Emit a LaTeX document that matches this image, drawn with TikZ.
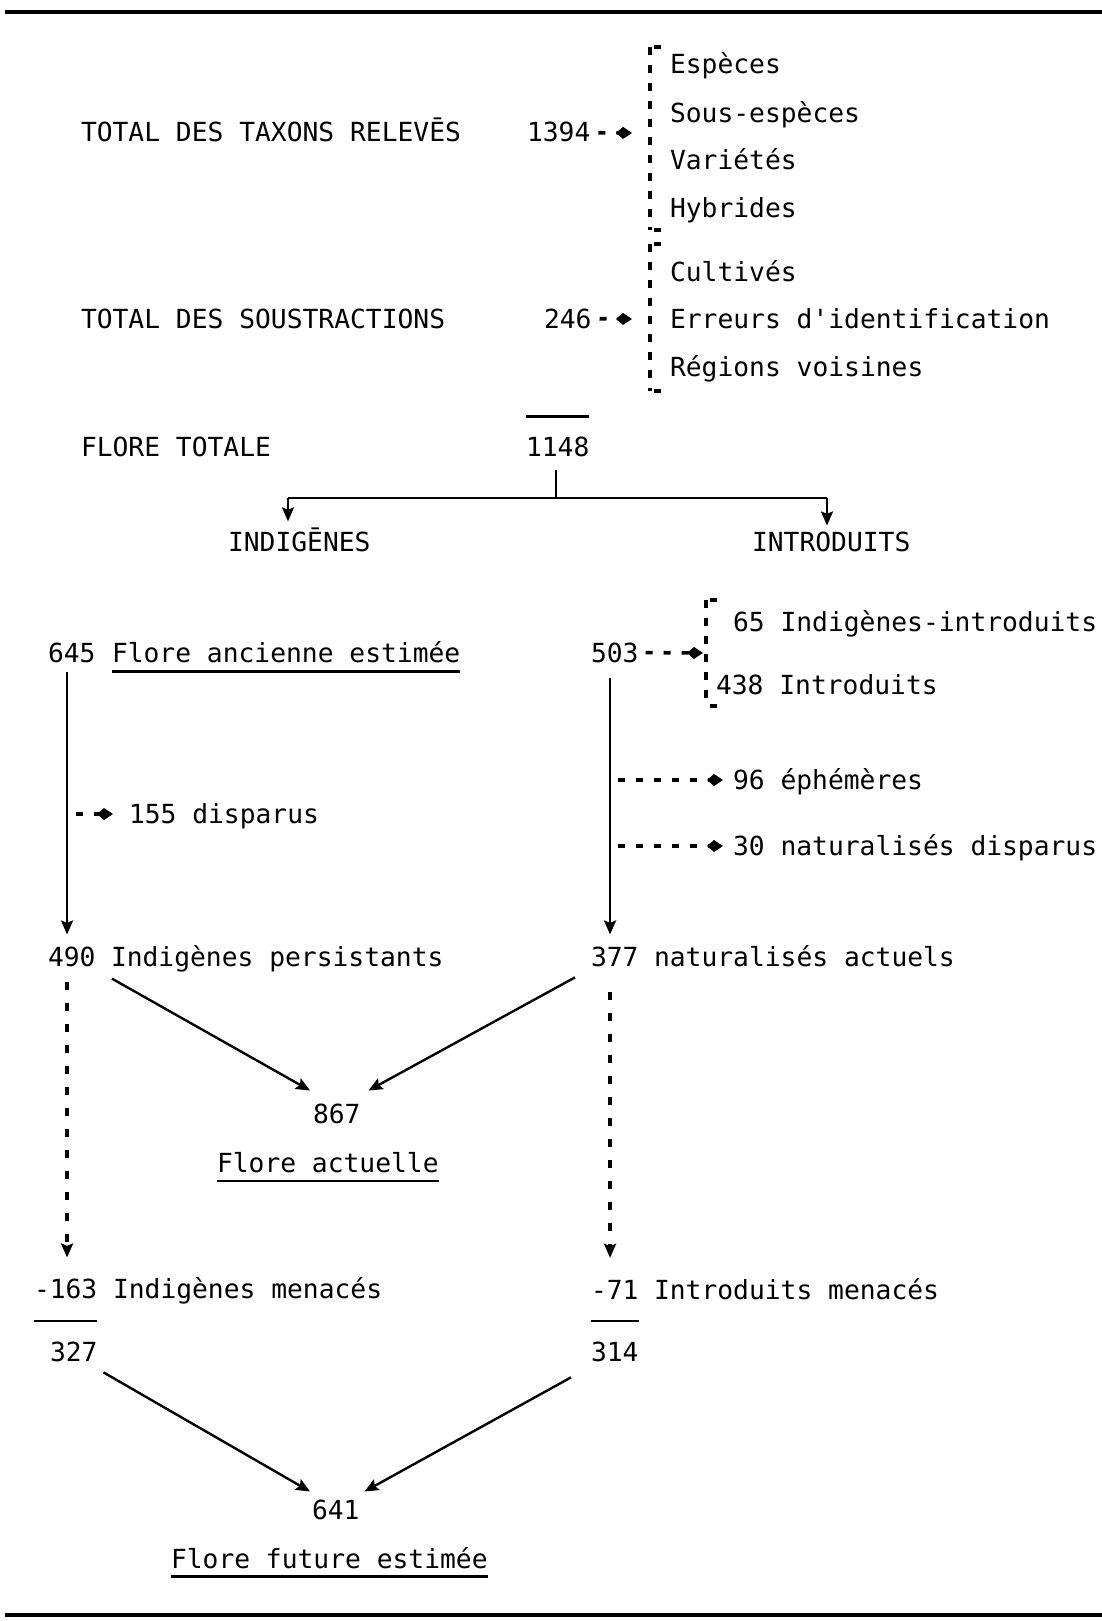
\documentclass[tikz,border=0pt]{standalone}
\usepackage{fontspec}
\setmonofont{DejaVu Sans Mono}
\usetikzlibrary{arrows.meta}
\begin{document}
\begin{tikzpicture}[x=0.5pt,y=-0.5pt,
 txt/.style={anchor=base west, inner sep=0pt, outer sep=0pt, font=\ttfamily\fontsize{13.15pt}{16pt}\selectfont},
 solidln/.style={line width=1.2pt},
 arr/.style={line width=1.2pt, -{Stealth[length=7pt,width=6pt,inset=1.2pt]}},
 dasharr/.style={line width=1.8pt, dash pattern=on 3.5pt off 5.5pt, -{Kite[length=8pt,width=6pt,inset=3.5pt]}},
 dotarr/.style={line width=2pt, dash pattern=on 4pt off 6.5pt, -{Stealth[length=7pt,width=6pt,inset=1.2pt]}},
 brk/.style={line width=1.7pt, dash pattern=on 4pt off 5pt},
 tickln/.style={line width=1.7pt},
 rulebar/.style={line width=1.6pt},
 uline/.style={line width=1.3pt}]
\useasboundingbox (0,0) rectangle (1102,1621);

% rules
\coordinate (rtl) at (5,12); \coordinate (rtr) at (1102,12);
\coordinate (rbl) at (5,1615); \coordinate (rbr) at (1102,1615);
\draw[rulebar] (rtl) -- (rtr);
\draw[rulebar] (rbl) -- (rbr);

% top block
\node[txt] (t1) at (81,142) {TOTAL DES TAXONS RELEVĒS};
\node[txt] (n1394) at (527,142) {1394};
\node[txt] (e1) at (670,74) {Espèces};
\node[txt] (e2) at (670,123) {Sous-espèces};
\node[txt] (e3) at (670,170) {Variétés};
\node[txt] (e4) at (670,218) {Hybrides};
\node[txt] (e5) at (670,281) {Cultivés};
\node[txt] (e6) at (670,328) {Erreurs d'identification};
\node[txt] (e7) at (670,376) {Régions voisines};
\node[txt] (t2) at (81,328) {TOTAL DES SOUSTRACTIONS};
\node[txt] (n246) at (544,328) {246};

% brackets
\coordinate (b1t) at (650,47); \coordinate (b1b) at (650,230);
\coordinate (b2t) at (650,244); \coordinate (b2b) at (650,391);
\draw[brk] (b1t) -- (b1b);
\draw[brk] (b2t) -- (b2b);
\draw[tickln] ([xshift=2pt]b1t) -- ([xshift=5.5pt]b1t);
\draw[tickln] ([xshift=2pt]b1b) -- ([xshift=5.5pt]b1b);
\draw[tickln] ([xshift=2pt]b2t) -- ([xshift=5.5pt]b2t);
\draw[tickln] ([xshift=2pt]b2b) -- ([xshift=5.5pt]b2b);

\coordinate (a1394) at (632,133);
\coordinate (a246) at (632,319);
\draw[dasharr, shorten <=4pt] (n1394) -- (a1394);
\draw[dasharr, shorten <=4pt] (n246) -- (a246);

% flore totale
\node[txt] (t3) at (81,456) {FLORE TOTALE};
\node[txt] (n1148) at (526,456) {1148};
\draw[uline] ([yshift=10pt]n1148.north west) -- ([yshift=10pt]n1148.north east);
\coordinate (split) at (556,498);
\coordinate (fL) at (288,498);
\coordinate (fR) at (827,498);
\draw[solidln, shorten <=7pt] (n1148.south -| split) -- (split);
\draw[solidln] (fL) -- (fR);
\node[txt] (indig) at (228,551) {INDIGĒNES};
\node[txt] (intro) at (752,551) {INTRODUITS};
\draw[arr, shorten >=3pt] (fL) -- (fL |- indig.north);
\draw[arr, shorten >=3pt] (fR) -- (fR |- intro.north);

% left column
\node[txt] (n645) at (48,662) {645};
\node[txt] (flA) at (112,662) {Flore ancienne estimée};
\draw[uline] ([yshift=-4.8pt]flA.base west) -- ([yshift=-4.8pt]flA.base east);
\node[txt] (n155) at (129,823) {155 disparus};
\coordinate (s155) at (76,814);
\draw[dasharr, shorten >=8pt] (s155) -- (s155 -| n155.west);
\node[txt] (n490) at (48,966) {490};
\node[txt] (l490) at (111,966) {Indigènes persistants};
\draw[arr, shorten <=5pt, shorten >=6pt] ([xshift=-2.35pt]n645.south) -- ([xshift=-2.35pt]n490.north);

% right column
\node[txt] (n503) at (591,662) {503};
\coordinate (b3t) at (706,600); \coordinate (b3b) at (706,706);
\draw[brk] (b3t) -- (b3b);
\draw[tickln] ([xshift=2pt]b3t) -- ([xshift=5.5pt]b3t);
\draw[tickln] ([xshift=2pt]b3b) -- ([xshift=5.5pt]b3b);
\coordinate (a503) at (703,653);
\draw[dasharr, shorten <=3.5pt] (n503) -- (a503);
\node[txt] (i65) at (733,631) {65 Indigènes-introduits};
\node[txt] (i438) at (716,694) {438 Introduits};
\node[txt] (n96) at (733,789) {96 éphémères};
\node[txt] (n30) at (733,855) {30 naturalisés disparus};
\coordinate (s96) at (618,780);
\coordinate (s30) at (618,846);
\draw[dasharr, shorten >=5pt] (s96) -- (s96 -| n96.west);
\draw[dasharr, shorten >=5pt] (s30) -- (s30 -| n30.west);
\node[txt] (n377) at (591,966) {377};
\node[txt] (l377) at (654,966) {naturalisés actuels};
\draw[arr, shorten <=8pt, shorten >=6pt] ([xshift=-2.35pt]n503.south) -- ([xshift=-2.35pt]n377.north);

% flore actuelle
\node[txt] (n867) at (313,1123) {867};
\node[txt] (flAct) at (217,1172) {Flore actuelle};
\draw[uline] ([yshift=-4.5pt]flAct.base west) -- ([yshift=-4.5pt]flAct.base east);
\draw[arr] ([shift={(0.5pt,-3.5pt)}]l490.south west) -- ([shift={(-1.5pt,6.5pt)}]n867.north west);
\draw[arr] ([shift={(-8pt,-5.5pt)}]n377.south west) -- ([shift={(4pt,6.5pt)}]n867.north east);

% menaces
\node[txt] (n163) at (34,1298) {-163};
\node[txt] (l163) at (113,1298) {Indigènes menacés};
\node[txt] (n71) at (591,1299) {-71};
\node[txt] (l71) at (654,1299) {Introduits menacés};
\draw[dotarr, shorten <=8pt, shorten >=10.5pt] ([xshift=-2.35pt]n490.south) -- ([xshift=-2.35pt]n490.south |- n163.north);
\draw[dotarr, shorten <=13pt, shorten >=11pt] ([xshift=-2.35pt]n377.south) -- ([xshift=-2.35pt]n377.south |- n71.north);
\draw[uline] ([yshift=-11.5pt]n163.base west) -- ([yshift=-11.5pt]n163.base east);
\draw[uline] ([yshift=-11pt]n71.base west) -- ([yshift=-11pt]n71.base east);
\node[txt] (n327) at (50,1361) {327};
\node[txt] (n314) at (591,1361) {314};

% flore future
\node[txt] (n641) at (312,1519) {641};
\node[txt] (flFut) at (171,1568) {Flore future estimée};
\draw[uline] ([yshift=-4.2pt]flFut.base west) -- ([yshift=-4.2pt]flFut.base east);
\draw[arr] ([shift={(3pt,-5.5pt)}]n327.south east) -- ([shift={(-1pt,4pt)}]n641.north west);
\draw[arr] ([shift={(-10pt,-8pt)}]n314.south west) -- ([shift={(2.5pt,4pt)}]n641.north east);
\end{tikzpicture}
\end{document}
